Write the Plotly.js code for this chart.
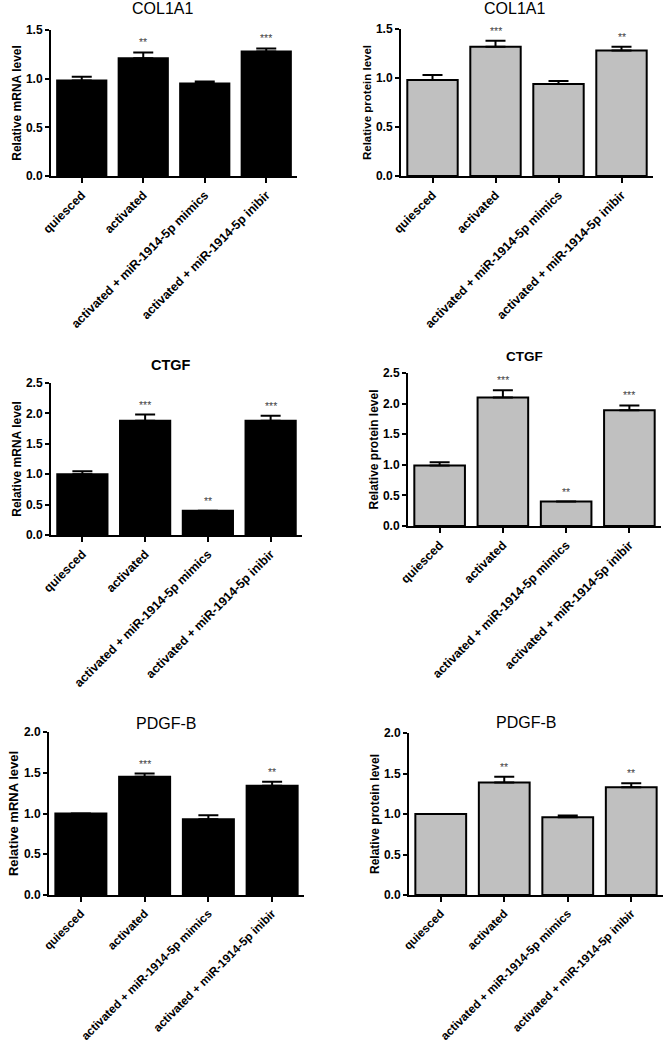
<!DOCTYPE html>
<html>
<head>
<meta charset="utf-8">
<script src="https://cdn.plot.ly/plotly-3.0.1.min.js"></script>
<style>html,body{margin:0;padding:0;background:#fff;}#chart{width:666px;height:1050px;}</style>
</head>
<body>
<div id="chart"></div>
<script>
const categories = ['quiesced', 'activated', 'activated + miR-1914-5p mimics', 'activated + miR-1914-5p inibir'];

const col1a1Mrna = [0.98, 1.21, 0.95, 1.28];
const col1a1MrnaErr = [0.04, 0.06, 0.02, 0.03];
const col1a1MrnaSig = ['', '**', '', '***'];

const col1a1Protein = [0.98, 1.32, 0.94, 1.28];
const col1a1ProteinErr = [0.05, 0.06, 0.03, 0.04];
const col1a1ProteinSig = ['', '***', '', '**'];

const ctgfMrna = [1.00, 1.88, 0.40, 1.88];
const ctgfMrnaErr = [0.05, 0.10, 0.00, 0.08];
const ctgfMrnaSig = ['', '***', '**', '***'];

const ctgfProtein = [0.99, 2.10, 0.40, 1.89];
const ctgfProteinErr = [0.05, 0.12, 0.00, 0.08];
const ctgfProteinSig = ['', '***', '**', '***'];

const pdgfbMrna = [1.00, 1.45, 0.93, 1.34];
const pdgfbMrnaErr = [0.00, 0.04, 0.05, 0.05];
const pdgfbMrnaSig = ['', '***', '', '**'];

const pdgfbProtein = [1.00, 1.39, 0.96, 1.33];
const pdgfbProteinErr = [0.00, 0.07, 0.02, 0.05];
const pdgfbProteinSig = ['', '**', '', '**'];

const W = 666, H = 1050;
const px = v => v / W;
const py = v => 1 - v / H;

const panels = [
  {title: 'COL1A1', tBold: false, tSize: 16, tx: 162, ty: 8, vals: col1a1Mrna, err: col1a1MrnaErr, sig: col1a1MrnaSig,
   ytitle: 'Relative mRNA level', ytSize: 12, ymax: 1.5, dx: [51, 297], dy: [176, 30], fill: '#000000', xt: 12.4},
  {title: 'COL1A1', tBold: false, tSize: 16, tx: 514, ty: 8, vals: col1a1Protein, err: col1a1ProteinErr, sig: col1a1ProteinSig,
   ytitle: 'Relative protein level', ytSize: 11.5, ymax: 1.5, dx: [401, 653], dy: [176, 29], fill: '#c0c0c0', xt: 12.4},
  {title: 'CTGF', tBold: true, tSize: 14.5, tx: 171, ty: 365, vals: ctgfMrna, err: ctgfMrnaErr, sig: ctgfMrnaSig,
   ytitle: 'Relative mRNA level', ytSize: 12, ymax: 2.5, dx: [51, 302], dy: [535, 383], fill: '#000000', xt: 12.4},
  {title: 'CTGF', tBold: true, tSize: 13.5, tx: 524, ty: 356, vals: ctgfProtein, err: ctgfProteinErr, sig: ctgfProteinSig,
   ytitle: 'Relative protein level', ytSize: 12, ymax: 2.5, dx: [408, 661], dy: [526, 373], fill: '#c0c0c0', xt: 12.4},
  {title: 'PDGF-B', tBold: false, tSize: 16, tx: 166, ty: 723, vals: pdgfbMrna, err: pdgfbMrnaErr, sig: pdgfbMrnaSig,
   ytitle: 'Relative mRNA level', ytSize: 13, ymax: 2.0, dx: [49, 304], dy: [895, 732], fill: '#000000', xt: 11.8},
  {title: 'PDGF-B', tBold: false, tSize: 16, tx: 526, ty: 722, vals: pdgfbProtein, err: pdgfbProteinErr, sig: pdgfbProteinSig,
   ytitle: 'Relative protein level', ytSize: 12, ymax: 2.0, dx: [409, 663], dy: [895, 733], fill: '#c0c0c0', xt: 11.8}
];

const FONT = 'Liberation Sans, Arial, sans-serif';
const data = [];
const layout = {
  width: W, height: H,
  margin: {l: 0, r: 0, t: 0, b: 0},
  paper_bgcolor: '#ffffff', plot_bgcolor: '#ffffff',
  showlegend: false,
  font: {family: FONT, color: '#000'},
  annotations: []
};

panels.forEach((p, i) => {
  const n = i + 1;
  const xa = 'x' + (n === 1 ? '' : n);
  const ya = 'y' + (n === 1 ? '' : n);
  data.push({
    type: 'bar',
    x: categories,
    y: p.vals,
    xaxis: xa, yaxis: ya,
    marker: {color: p.fill, line: {color: '#000', width: 2}},
    error_y: {type: 'data', symmetric: false, array: p.err, arrayminus: p.err.map(() => 0),
              color: '#000', thickness: 2, width: 10},
    hoverinfo: 'none'
  });
  const xk = 'xaxis' + (n === 1 ? '' : n);
  const yk = 'yaxis' + (n === 1 ? '' : n);
  layout[xk] = {
    domain: [px(p.dx[0]), px(p.dx[1])],
    anchor: ya,
    type: 'category',
    range: [-0.5, 3.5],
    showline: true, linewidth: 2, linecolor: '#000',
    ticks: 'outside', ticklen: 5, tickwidth: 2, tickcolor: '#000',
    tickangle: -45,
    tickfont: {family: FONT, size: p.xt, weight: 'bold', color: '#000'},
    showgrid: false, zeroline: false, fixedrange: true
  };
  layout[yk] = {
    domain: [py(p.dy[0]), py(p.dy[1])],
    anchor: xa,
    range: [0, p.ymax],
    dtick: 0.5, tick0: 0, tickformat: '.1f',
    showline: true, linewidth: 2, linecolor: '#000',
    ticks: 'outside', ticklen: 4, tickwidth: 2, tickcolor: '#000',
    tickfont: {family: FONT, size: 12, weight: 'bold', color: '#000'},
    title: {text: p.ytitle, font: {family: FONT, size: p.ytSize, weight: 'bold', color: '#000'}, standoff: 2},
    showgrid: false, zeroline: false, fixedrange: true
  };
  layout.annotations.push({
    xref: 'paper', yref: 'paper', x: px(p.tx), y: py(p.ty),
    xanchor: 'center', yanchor: 'middle', showarrow: false,
    text: p.title,
    font: {family: FONT, size: p.tSize, weight: p.tBold ? 'bold' : 'normal', color: '#000'}
  });
  p.sig.forEach((s, j) => {
    if (!s) return;
    layout.annotations.push({
      xref: xa, yref: ya, x: categories[j], y: p.vals[j] + p.err[j],
      xanchor: 'center', yanchor: 'middle', yshift: 10, showarrow: false,
      text: s, font: {family: FONT, size: 10.5, color: '#444444'}
    });
  });
});

Plotly.newPlot('chart', data, layout, {staticPlot: true, displayModeBar: false});
</script>
</body>
</html>
